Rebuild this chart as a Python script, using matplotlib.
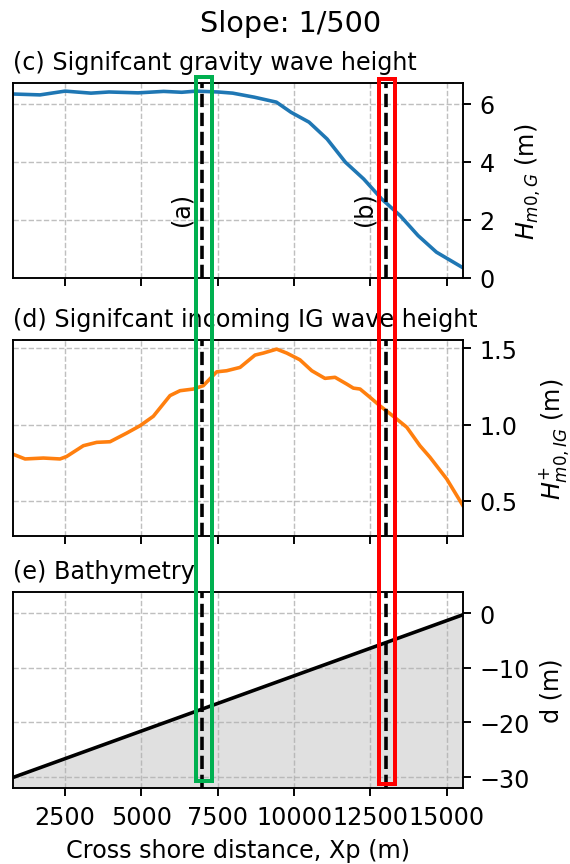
import numpy as np
import matplotlib
matplotlib.use("Agg")
import matplotlib.pyplot as plt
from matplotlib.patches import Rectangle
import matplotlib.transforms as mtransforms

# Data
xp_g = [800, 1680, 2500, 3350, 3940, 4890, 5730, 6320, 6800, 7510, 7990, 8700,
        9420, 9900, 10490, 11080, 11680, 12280, 12870, 13470, 14060, 14660, 15530]
hm0_g = [6.34, 6.31, 6.44, 6.37, 6.41, 6.38, 6.43, 6.40, 6.44, 6.41, 6.37, 6.23,
         6.06, 5.71, 5.37, 4.79, 3.99, 3.41, 2.72, 2.15, 1.46, 0.89, 0.35]

xp_ig = [786, 1190, 1790, 2335, 2550, 3100, 3537, 3972, 4520, 4955, 5390, 5937,
         6264, 6700, 7027, 7465, 7790, 8230, 8720, 8990, 9430, 9760, 10190, 10580,
         11010, 11340, 11720, 11940, 12160, 12490, 12810, 13250, 13690, 14120,
         14450, 15000, 15530]
hm0_ig = [0.806, 0.774, 0.78, 0.774, 0.79, 0.861, 0.883, 0.887, 0.944, 0.992,
          1.054, 1.19, 1.222, 1.233, 1.255, 1.346, 1.353, 1.375, 1.456, 1.469,
          1.495, 1.469, 1.425, 1.353, 1.303, 1.31, 1.266, 1.239, 1.233, 1.178,
          1.123, 1.054, 0.982, 0.861, 0.785, 0.642, 0.467]

xp_bath = [786, 15531]
depth = [-30.1, -0.3]

locations = [7000, 13000]
loc_labels = ['(a)', '(b)']
highlight_spans = [(6800, 7320), (12770, 13295)]
highlight_colors = ['#00b050', '#ff0000']

DPI = 172
fig = plt.figure(figsize=(570 / DPI, 865 / DPI), dpi=DPI)

left, width = 0.0223, 0.79
ax_c = fig.add_axes([left, 0.6775, width, 0.2254])
ax_d = fig.add_axes([left, 0.3795, width, 0.2263], sharex=ax_c)
ax_e = fig.add_axes([left, 0.0879, width, 0.2262], sharex=ax_c)

# (c) gravity wave height
ax_c.plot(xp_g, hm0_g, color='#1f77b4', lw=1.5)
ax_c.set_ylim(0, 6.72)
ax_c.set_yticks([0, 2, 4, 6])
ax_c.set_ylabel('$H_{m0,G}$ (m)', labelpad=8)
ax_c.set_title('(c) Signifcant gravity wave height', loc='left', fontsize=10)

# (d) incoming IG wave height
ax_d.plot(xp_ig, hm0_ig, color='#ff7f0e', lw=1.5)
ax_d.set_ylim(0.27, 1.555)
ax_d.set_yticks([0.5, 1.0, 1.5])
ax_d.set_ylabel('$H^{+}_{m0,IG}$ (m)', labelpad=8)
ax_d.set_title('(d) Signifcant incoming IG wave height', loc='left', fontsize=10)

# (e) bathymetry
ax_e.set_ylim(-32, 3.8)
ax_e.fill_between(xp_bath, depth, -32, color='lightgray', alpha=0.7, lw=0)
ax_e.plot(xp_bath, depth, color='black', lw=1.5)
ax_e.set_yticks([0, -10, -20, -30])
ax_e.set_ylabel('d (m)')
ax_e.set_xlabel('Cross shore distance, Xp (m)')
ax_e.set_title('(e) Bathymetry', loc='left', fontsize=10)

ax_c.set_xlim(xp_bath[0], xp_bath[-1])
ax_c.set_xticks([2500, 5000, 7500, 10000, 12500, 15000])

for ax in (ax_c, ax_d, ax_e):
    ax.yaxis.tick_right()
    ax.yaxis.set_label_position('right')
    ax.grid(True, linestyle='--', color='#b0b0b0', lw=0.6, alpha=0.8)
    for xl in locations:
        ax.axvline(xl, color='black', linestyle='--', lw=1.5)
for ax in (ax_c, ax_d):
    ax.tick_params(labelbottom=False)

for xl, lab in zip(locations, loc_labels):
    ax_c.text(xl - 300, 2.4, lab, rotation=90, ha='right', va='center', fontsize=10)

fig.suptitle('Slope: 1/500', fontsize=12, x=0.51, y=0.988, va='top')

# coloured boxes marking the two locations
trans = mtransforms.blended_transform_factory(ax_e.transData, fig.transFigure)
for (x0, x1), col, yb, yt in zip(highlight_spans, highlight_colors,
                                 [0.0959, 0.0928], [0.9098, 0.9072]):
    rect = Rectangle((x0, yb), x1 - x0, yt - yb, transform=trans, fill=False,
                     edgecolor=col, lw=1.67, clip_on=False)
    fig.add_artist(rect)

fig.savefig('out.png', dpi=DPI)
